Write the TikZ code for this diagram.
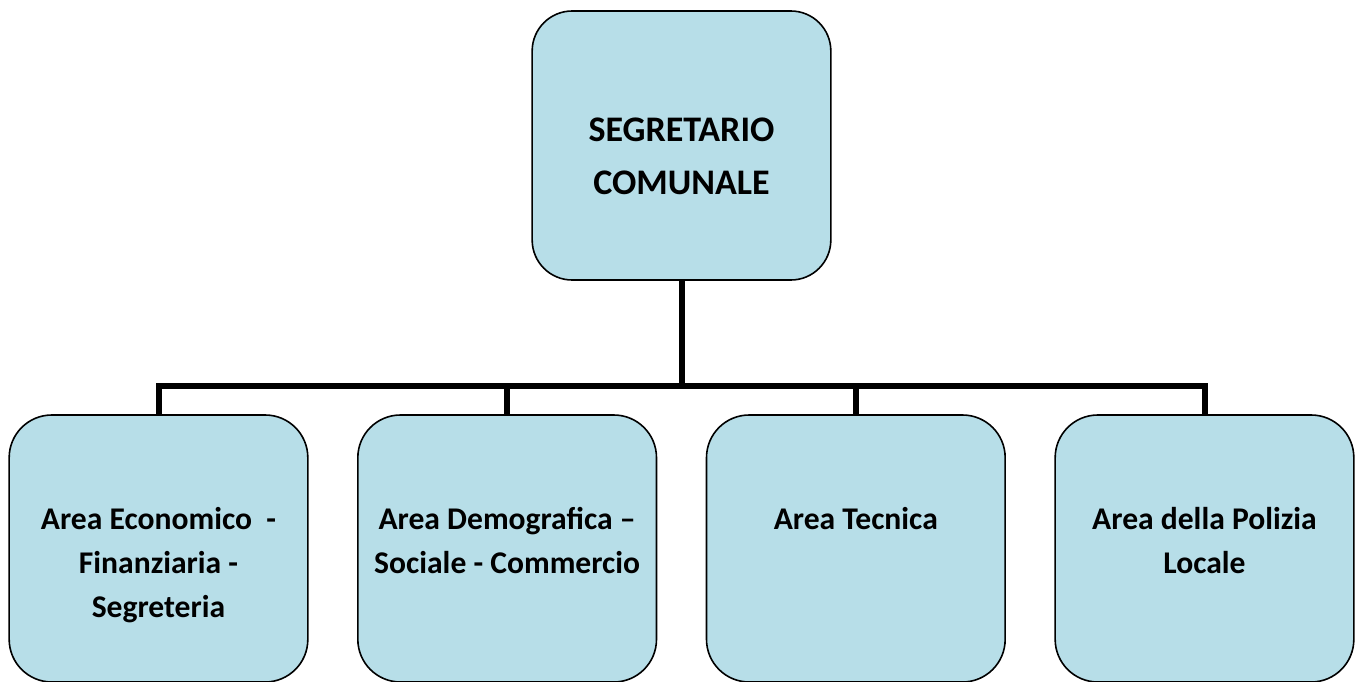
\documentclass[tikz,border=0pt]{standalone}
\usepackage{fontspec}
\setmainfont{Carlito}
\usepackage{tikz}
\usetikzlibrary{positioning}
\definecolor{mfill}{HTML}{B7DEE8}
\tikzstyle{head} = [rectangle, rounded corners=30pt, draw, line width=1.2pt, outer sep=0pt, inner sep=0pt, minimum width=224pt, text width=215pt, text height=97.5pt, text depth=104.25pt, align=flush center, fill=mfill, font=\bfseries\fontsize{27}{39.75}\selectfont]
\tikzstyle{area} = [rectangle, rounded corners=32pt, draw, line width=1.2pt, outer sep=0pt, inner sep=0pt, minimum width=224pt, text width=220pt, text height=85.9pt, text depth=114.35pt, align=flush center, fill=mfill, font=\bfseries\fontsize{23.7}{33}\selectfont]
\tikzstyle{link} = [line width=4.5pt]

\begin{document}
\begin{tikzpicture}[x=0.75pt, y=-0.75pt, node distance=37.5pt]
\useasboundingbox (0,0) rectangle (1364,682);
%Organigramma
\node (segr) [head] at (681.5,145.5) {SEGRETARIO\\COMUNALE};
\node (econ) [area] at (158.5,548.5) {Area Economico~ -\\Finanziaria -\\Segreteria};
\node (demo) [area, right = of econ] {Area Demografica --\\Sociale - Commercio};
\node (tecn) [area, right = of demo] {Area Tecnica};
\node (poli) [area, right = of tecn] {Area della Polizia\\Locale};
\coordinate [below = 79.5pt of segr.south] (bus);
\draw [link] (segr.south) -- (bus);
\draw [link] (econ.north) |- (bus) -| (poli.north);
\draw [link] (demo.north) -- (demo.north |- bus);
\draw [link] (tecn.north) -- (tecn.north |- bus);
\end{tikzpicture}
\end{document}
